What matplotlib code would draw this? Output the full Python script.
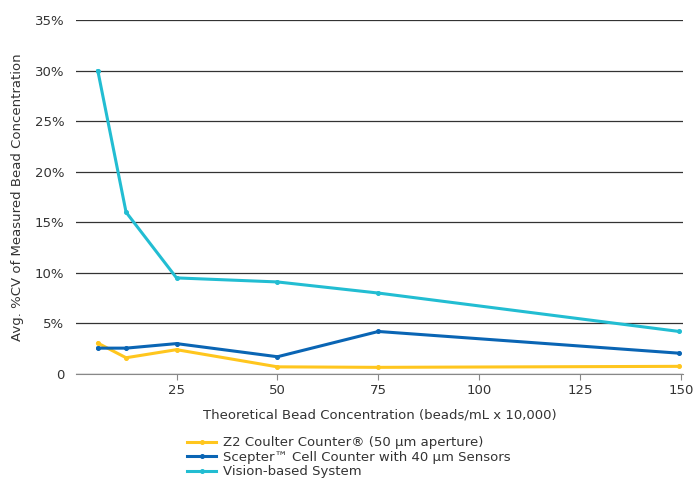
import numpy as np
import matplotlib
matplotlib.use("Agg")
import matplotlib.pyplot as plt

# values
conc = [5.5, 12.5, 25, 50, 75, 149.5]
z2 = [3.05, 1.6, 2.4, 0.7, 0.65, 0.75]
scepter = [2.55, 2.55, 3.0, 1.7, 4.2, 2.05]
vision = [30.0, 16.0, 9.5, 9.1, 8.0, 4.2]

names = ["Z2 Coulter Counter\u00ae (50 \u00b5m aperture)",
         "Scepter\u2122 Cell Counter with 40 \u00b5m Sensors",
         "Vision-based System"]
colors = ["#FFC61E", "#0A65B4", "#22BDD2"]

yticks = [0, 5, 10, 15, 20, 25, 30, 35]
ylabels = ["0"] + ["%d%%" % v for v in yticks[1:]]
xticks = [25, 50, 75, 100, 125, 150]

plt.rcParams['font.family'] = ['DejaVu Sans']
fig = plt.figure(figsize=(7, 4.8), dpi=100)
ax = fig.add_axes([0.108, 0.221, 0.868, 0.737])

for ys, c, n in zip([z2, scepter, vision], colors, names):
    ax.plot(conc, ys, color=c, lw=2.2, marker='o', ms=2.6, label=n, zorder=3)

ax.set_xlim(0, 150.5)
ax.set_ylim(0, 35)
ax.set_yticks(yticks)
ax.set_yticklabels(ylabels)
ax.set_xticks(xticks)
ax.tick_params(axis='y', length=0, labelsize=9.5, colors='#333333', pad=8)
ax.tick_params(axis='x', length=4, labelsize=9.5, colors='#333333', color='#888888')
ax.grid(axis='y', color='#333333', lw=0.9)
ax.set_axisbelow(True)
for s in ['top', 'right', 'left']:
    ax.spines[s].set_visible(False)
ax.spines['bottom'].set_color('#888888')

ax.set_xlabel("Theoretical Bead Concentration (beads/mL x 10,000)", fontsize=9.5,
              color='#333333', labelpad=8)
ax.set_ylabel("Avg. %CV of Measured Bead Concentration", fontsize=9.5,
              color='#333333', labelpad=8)

fig.legend(loc='upper left', bbox_to_anchor=(0.258, 0.105), frameon=False,
           fontsize=9.5, handlelength=2.2, handletextpad=0.5, labelspacing=0.12,
           borderpad=0, labelcolor='#333333')

fig.savefig("out.png", dpi=100)
